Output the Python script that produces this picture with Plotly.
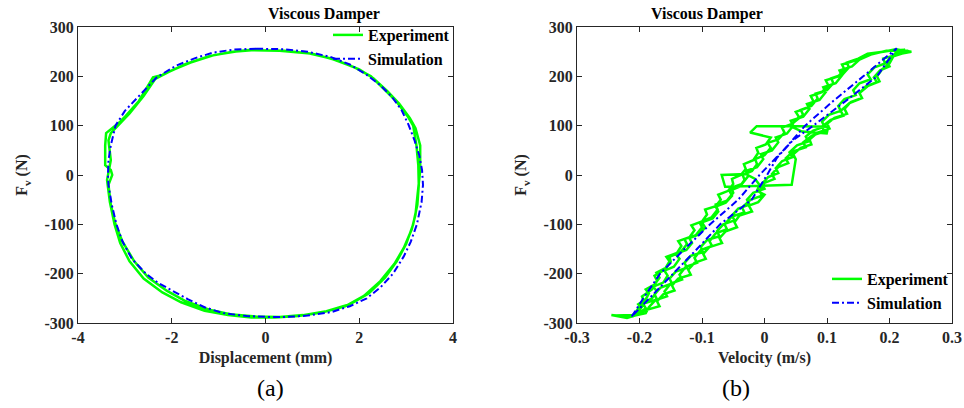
import plotly.graph_objects as go

# ---------------- data ----------------
# (a) Displacement (mm) vs force (N)
sim_disp = [-0.2, 0.4, 0.9, 1.4, 1.8, 2.16, 2.45, 2.7, 2.9, 3.05, 3.18, 3.28, 3.34, 3.36, 3.33, 3.23, 3.1, 2.95,
            2.72, 2.45, 2.16, 1.8, 1.4, 0.9, 0.4, 0.1, -0.4, -0.9, -1.3, -1.65, -2.0, -2.3, -2.55, -2.85, -3.05,
            -3.18, -3.28, -3.35, -3.36, -3.35, -3.3, -3.2, -3.0, -2.7, -2.32, -1.9, -1.5, -1.12, -0.7, -0.2]
sim_force_a = [256, 255, 250, 239, 224, 203, 182, 158, 132, 102, 70, 40, 10, -20, -55, -100, -135, -165,
               -200, -228, -250, -266, -278, -285, -288, -288, -286, -280, -268, -252, -234, -218, -200, -170, -135,
               -100, -60, -20, 0, 30, 60, 100, 130, 160, 198, 222, 237, 248, 254, 256]

exp_disp = [-0.3, 0.3, 0.9, 1.4, 1.9, 2.25, 2.55, 2.8, 3.04, 3.15, 3.22, 3.26, 3.27, 3.24, 3.15, 3.0, 2.8,
            2.55, 2.2, 1.8, 1.3, 0.8, 0.3, -0.2, -0.7, -1.2, -1.7, -2.1, -2.5, -2.8, -3.05, -3.2, -3.3, -3.35,
            -3.27, -3.3, -3.42, -3.42, -3.4, -3.1, -2.98, -2.7, -2.4, -2.2, -1.7, -1.2, -0.7, -0.3,
            0.4, 1.0, 1.5, 2.0, 2.3, 2.6, 2.85, 3.08, 3.2, 3.3, 3.3, 3.25, 3.2, 3.12, 2.95, 2.75, 2.45, 2.1,
            1.7, 1.2, 0.7, 0.2, -0.3, -0.8, -1.3, -1.8, -2.2, -2.6, -2.9, -3.1, -3.22, -3.32, -3.38, -3.3,
            -3.35, -3.3, -3.05, -2.9, -2.6, -2.35, -2.0, -1.6, -1.1, -0.6, -0.3]
exp_force_a = [253, 252, 247, 236, 218, 200, 172, 148, 118, 100, 60, 20, -20, -60, -100, -140, -175,
               -208, -240, -262, -276, -284, -288, -287, -283, -273, -256, -235, -208, -175, -135, -100, -60, -20,
               0, 10, 20, 60, 85, 108, 120, 150, 198, 203, 225, 241, 250, 253,
               252, 246, 233, 214, 196, 170, 145, 115, 95, 60, 10, -40, -80, -110, -148, -180, -215, -245,
               -266, -279, -286, -289, -289, -284, -275, -258, -238, -210, -175, -138, -100, -55, -10, 30,
               70, 85, 110, 125, 160, 195, 212, 228, 243, 251, 254]

# (b) Velocity (m/s) vs force (N)
sim_vel = [-0.2125, -0.194, -0.167, -0.128, -0.087, -0.042, -0.008, 0.03, 0.065, 0.11, 0.158, 0.2115,
           0.18, 0.13, 0.078, 0.045, 0.02, 0.004, -0.0205, -0.071, -0.108, -0.146, -0.183, -0.2125]
sim_force_b = [-287, -250, -200, -150, -100, -50, 0, 50, 100, 150, 200, 257,
               200, 150, 100, 70, 35, 0, -50, -100, -150, -200, -250, -287]

# experiment, (velocity, force) pairs, three recorded cycles
exp_b_cycle1 = [
    (-0.215, -288), (-0.205, -278), (-0.198, -268), (-0.202, -262), (-0.19, -252), (-0.185, -240), (-0.19, -232),
    (-0.176, -222), (-0.168, -208), (-0.173, -198), (-0.158, -188), (-0.152, -175), (-0.157, -166), (-0.14, -158),
    (-0.133, -144), (-0.138, -134), (-0.12, -126), (-0.112, -112), (-0.117, -102), (-0.1, -94), (-0.092, -80),
    (-0.095, -70), (-0.078, -63), (-0.07, -50), (-0.074, -40), (-0.058, -32), (-0.05, -18), (-0.052, -8),
    (-0.038, 0), (-0.03, 12), (-0.033, 22), (-0.018, 30), (-0.01, 45), (-0.013, 55), (0.002, 62), (0.01, 76),
    (-0.023, 86), (-0.0125, 99), (0.057, 99), (0.102, 98), (0.0995, 84.5), (0.06, 88), (0.04, 100), (0.05, 110),
    (0.062, 122), (0.058, 132), (0.075, 140), (0.085, 155), (0.082, 165), (0.1, 172), (0.11, 186), (0.107, 196),
    (0.125, 204), (0.135, 218), (0.132, 228), (0.15, 236), (0.165, 246), (0.19, 250), (0.21, 255), (0.235, 250),
    (0.22, 246),
    (0.205, 240), (0.196, 230), (0.2, 220), (0.185, 212), (0.175, 198), (0.18, 188), (0.162, 180), (0.152, 166),
    (0.156, 156), (0.138, 148), (0.128, 134), (0.132, 124), (0.112, 116), (0.1, 104), (0.104, 94), (0.085, 86),
    (0.072, 72), (0.075, 62), (0.058, 55), (0.046, 42), (0.05, 32), (0.046, 0), (0.0435, -20), (-0.063, -24),
    (-0.0685, 0), (-0.03, 2), (-0.015, -8), (-0.008, -20), (-0.012, -32), (0.0, -40), (-0.01, -55), (-0.025, -62),
    (-0.02, -74), (-0.04, -82), (-0.048, -96), (-0.044, -106), (-0.062, -114), (-0.072, -128), (-0.068, -138),
    (-0.088, -146), (-0.098, -160), (-0.094, -170), (-0.112, -178), (-0.122, -192), (-0.118, -202),
    (-0.138, -210), (-0.148, -224), (-0.144, -234), (-0.162, -242), (-0.172, -256), (-0.168, -266),
    (-0.19, -274), (-0.205, -284), (-0.23, -286), (-0.245, -284), (-0.22, -290),
]
exp_b_cycle2 = [
    (-0.205, -284), (-0.19, -270), (-0.195, -260), (-0.18, -250), (-0.172, -236), (-0.178, -226), (-0.162, -218),
    (-0.155, -204), (-0.16, -194), (-0.145, -186), (-0.136, -170), (-0.142, -160), (-0.125, -152), (-0.116, -138),
    (-0.12, -128), (-0.104, -120), (-0.095, -106), (-0.1, -96), (-0.083, -88), (-0.074, -74), (-0.078, -64),
    (-0.062, -56), (-0.052, -42), (-0.056, -32), (-0.04, -24), (-0.032, -10), (-0.035, 0), (-0.02, 8),
    (-0.012, 22), (-0.015, 32), (0.0, 40), (0.01, 55), (0.005, 65), (0.022, 72), (0.032, 86), (0.028, 96),
    (0.045, 104), (0.055, 118), (0.05, 128), (0.068, 136), (0.078, 150), (0.074, 160), (0.092, 168),
    (0.102, 182), (0.098, 192), (0.118, 200), (0.128, 214), (0.124, 224), (0.145, 232), (0.16, 242),
    (0.18, 248), (0.2, 252), (0.23, 252),
    (0.215, 245), (0.19, 236), (0.193, 226), (0.176, 218), (0.165, 204), (0.17, 194), (0.152, 186),
    (0.142, 172), (0.146, 162), (0.128, 154), (0.118, 140), (0.122, 130), (0.103, 122), (0.092, 108),
    (0.096, 98), (0.078, 90), (0.066, 78), (0.07, 68), (0.052, 60), (0.04, 46), (0.044, 36), (0.028, 28),
    (0.018, 14), (0.022, 4), (0.006, -4), (-0.004, -18), (0.0, -28), (-0.018, -36), (-0.028, -50),
    (-0.024, -60), (-0.042, -68), (-0.052, -82), (-0.048, -92), (-0.066, -100), (-0.076, -114), (-0.072, -124),
    (-0.092, -132), (-0.102, -146), (-0.098, -156), (-0.118, -164), (-0.128, -178), (-0.124, -188),
    (-0.142, -196), (-0.152, -210), (-0.148, -220), (-0.166, -228), (-0.176, -242), (-0.172, -252),
    (-0.192, -260), (-0.2, -274), (-0.21, -284), (-0.24, -285), (-0.215, -288),
]
exp_b_cycle3 = [
    (-0.21, -286), (-0.2, -266), (-0.193, -256), (-0.196, -246), (-0.18, -232), (-0.172, -214), (-0.176, -204),
    (-0.16, -192), (-0.15, -176), (-0.152, -166), (-0.134, -156), (-0.124, -140), (-0.128, -130), (-0.11, -122),
    (-0.1, -106), (-0.104, -96), (-0.085, -86), (-0.075, -70), (-0.078, -60), (-0.06, -52), (-0.05, -36),
    (-0.053, -26), (-0.036, -18), (-0.026, -2), (-0.03, 8), (-0.012, 16), (-0.002, 32), (-0.006, 42),
    (0.012, 50), (0.022, 66), (0.018, 76), (0.036, 84), (0.046, 100), (0.042, 110), (0.062, 118), (0.072, 134),
    (0.068, 144), (0.088, 152), (0.098, 168), (0.094, 178), (0.114, 186), (0.124, 202), (0.12, 212),
    (0.14, 220), (0.152, 234), (0.17, 244), (0.195, 252), (0.225, 254), (0.21, 248),
    (0.205, 238), (0.2, 226), (0.188, 214), (0.18, 200), (0.184, 190), (0.165, 180), (0.152, 166),
    (0.156, 156), (0.136, 146), (0.122, 130), (0.126, 120), (0.106, 112), (0.092, 98), (0.096, 88),
    (0.076, 80), (0.062, 66), (0.066, 56), (0.046, 48), (0.034, 34), (0.038, 24), (0.022, 16), (0.012, 2),
    (0.016, -8), (0.0, -16), (-0.008, -32), (-0.004, -42), (-0.022, -50), (-0.036, -66), (-0.032, -76),
    (-0.052, -84), (-0.064, -100), (-0.06, -110), (-0.078, -118), (-0.088, -134), (-0.084, -144),
    (-0.102, -152), (-0.112, -168), (-0.108, -178), (-0.126, -186), (-0.136, -202), (-0.132, -212),
    (-0.15, -220), (-0.16, -236), (-0.156, -246), (-0.175, -254), (-0.185, -268), (-0.19, -280), (-0.215, -287),
]
exp_b_all = exp_b_cycle1 + exp_b_cycle2 + exp_b_cycle3
exp_vel = [p[0] for p in exp_b_all]
exp_force_b = [p[1] for p in exp_b_all]

x_ticks_a = [-4, -2, 0, 2, 4]
x_tick_text_a = ["-4", "-2", "0", "2", "4"]
x_ticks_b = [-0.3, -0.2, -0.1, 0, 0.1, 0.2, 0.3]
x_tick_text_b = ["-0.3", "-0.2", "-0.1", "0", "0.1", "0.2", "0.3"]
y_ticks = [-300, -200, -100, 0, 100, 200, 300]
y_tick_text = ["-300", "-200", "-100", "0", "100", "200", "300"]

# ---------------- styling ----------------
GREEN = "#00FF00"
BLUE = "#0000FF"
AX = "#262626"
SERIF = "Times New Roman"
DASHDOT = "7px,3px,2px,3px"

fig = go.Figure()
fig.add_trace(go.Scatter(x=exp_disp, y=exp_force_a, mode="lines", name="Experiment",
                         line=dict(color=GREEN, width=2.5), xaxis="x", yaxis="y", legend="legend"))
fig.add_trace(go.Scatter(x=sim_disp, y=sim_force_a, mode="lines", name="Simulation",
                         line=dict(color=BLUE, width=2, dash=DASHDOT), xaxis="x", yaxis="y", legend="legend"))
fig.add_trace(go.Scatter(x=exp_vel, y=exp_force_b, mode="lines", name="Experiment",
                         line=dict(color=GREEN, width=2.5), xaxis="x2", yaxis="y2", legend="legend2"))
fig.add_trace(go.Scatter(x=sim_vel, y=sim_force_b, mode="lines", name="Simulation",
                         line=dict(color=BLUE, width=2, dash=DASHDOT), xaxis="x2", yaxis="y2", legend="legend2"))

tickfont = dict(family=SERIF, size=16, color=AX, weight="bold")
titlefont = dict(family=SERIF, size=16, color=AX, weight="bold")
common = dict(showline=True, linecolor=AX, linewidth=1, mirror="ticks", ticks="inside", ticklen=5,
              tickcolor=AX, showgrid=False, zeroline=False, tickfont=tickfont, automargin=False)

ydom = [1 - 323 / 408, 1 - 27 / 408]
legfont = dict(family=SERIF, size=16, color="black", weight="bold")
fig.update_layout(
    width=964, height=408, margin=dict(l=0, r=0, t=0, b=0, autoexpand=False),
    plot_bgcolor="white", paper_bgcolor="white",
    xaxis=dict(domain=[78 / 964, 453 / 964], range=[-4, 4], tickvals=x_ticks_a, ticktext=x_tick_text_a,
               title=dict(text="Displacement (mm)", font=titlefont, standoff=6), anchor="y", **common),
    yaxis=dict(domain=ydom, range=[-300, 300], tickvals=y_ticks, ticktext=y_tick_text,
               title=dict(text="F<sub>v</sub> (N)", font=titlefont, standoff=12), anchor="x", **common),
    xaxis2=dict(domain=[577 / 964, 952 / 964], range=[-0.3, 0.3], tickvals=x_ticks_b, ticktext=x_tick_text_b,
                title=dict(text="Velocity (m/s)", font=titlefont, standoff=6), anchor="y2", **common),
    yaxis2=dict(domain=ydom, range=[-300, 300], tickvals=y_ticks, ticktext=y_tick_text,
                title=dict(text="F<sub>v</sub> (N)", font=titlefont, standoff=12), anchor="x2", **common),
    legend=dict(x=455 / 964, y=1 - 18 / 408, xanchor="right", yanchor="top", bgcolor="rgba(0,0,0,0)",
                font=legfont, tracegroupgap=0, itemwidth=30),
    legend2=dict(x=954 / 964, y=1 - 320 / 408, xanchor="right", yanchor="bottom", bgcolor="rgba(0,0,0,0)",
                 font=legfont, tracegroupgap=0, itemwidth=30),
    annotations=[
        dict(text="<b>Viscous Damper</b>", x=265.5 / 964, y=1 - 14 / 408, xref="paper", yref="paper",
             yanchor="middle", showarrow=False, font=dict(family=SERIF, size=16, color="black")),
        dict(text="<b>Viscous Damper</b>", x=764.5 / 964, y=1 - 14 / 408, xref="paper", yref="paper",
             yanchor="middle", showarrow=False, font=dict(family=SERIF, size=16, color="black")),
        dict(text="(a)", x=255 / 964, y=1 - 388 / 408, xref="paper", yref="paper",
             yanchor="middle", showarrow=False, font=dict(family=SERIF, size=24, color="black")),
        dict(text="(b)", x=752 / 964, y=1 - 388 / 408, xref="paper", yref="paper",
             yanchor="middle", showarrow=False, font=dict(family=SERIF, size=24, color="black")),
    ],
)

fig.write_html("out.html")
